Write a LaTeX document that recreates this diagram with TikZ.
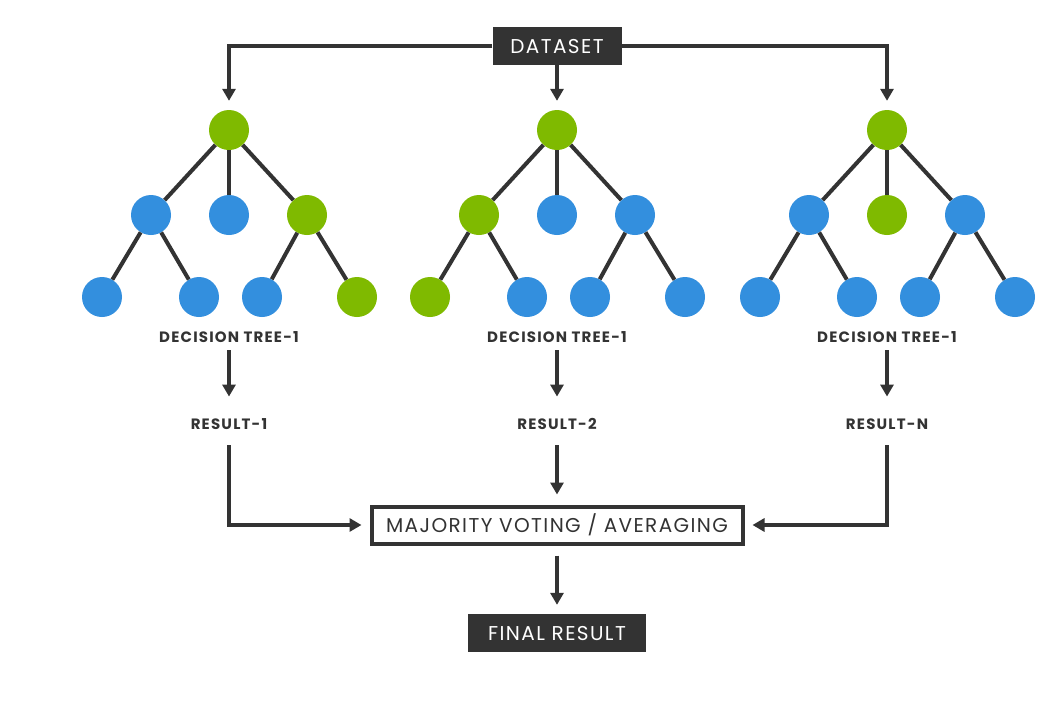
\documentclass[tikz,border=0pt]{standalone}
\usepackage{fontspec}
\setmainfont{Poppins}
\newfontfamily\labfont[LetterSpace=8]{Poppins}
\newfontfamily\boxfont[LetterSpace=7]{Poppins}
\usetikzlibrary{arrows.meta}
\definecolor{dk}{HTML}{333333}
\definecolor{gr}{HTML}{7FBA00}
\definecolor{bl}{HTML}{338FDE}
\tikzset{
  g/.style={circle,fill=gr,minimum size=40pt,inner sep=0pt},
  b/.style={circle,fill=bl,minimum size=40pt,inner sep=0pt},
  edge/.style={draw=dk,line width=4pt},
  arr/.style={draw=dk,line width=4pt,-{Triangle[width=13pt,length=12pt]}},
  lab/.style={text=dk,font=\labfont\bfseries\fontsize{15}{15}\selectfont,inner sep=0pt,text height=10.5pt,text depth=0pt},
  boxtext/.style={font=\boxfont\fontsize{20}{20}\selectfont,inner sep=0pt,text height=14pt,text depth=0pt},
  darkbox/.style={boxtext,fill=dk,text=white},
}
\begin{document}
\begin{tikzpicture}[x=1pt,y=-1pt]
\useasboundingbox (0,0) rectangle (1061,705);
\fill[white] (0,0) rectangle (1061,705);
% dataset
\node[darkbox,minimum width=129pt,minimum height=38pt] (ds) at (557,46) {DATASET};
% tree 1
\node[g] (r1) at (229,130) {};
\node[b] (a1) at (151,215) {};
\node[b] (b1) at (229,215) {};
\node[g] (c1) at (307,215) {};
\node[b] (d1) at (102,297) {};
\node[b] (e1) at (199,297) {};
\node[b] (f1) at (262,297) {};
\node[g] (h1) at (357,297) {};
% tree 2
\node[g] (r2) at (557,130) {};
\node[g] (a2) at (479,215) {};
\node[b] (b2) at (557,215) {};
\node[b] (c2) at (635,215) {};
\node[g] (d2) at (430,297) {};
\node[b] (e2) at (527,297) {};
\node[b] (f2) at (590,297) {};
\node[b] (h2) at (685,297) {};
% tree 3
\node[g] (r3) at (887,130) {};
\node[b] (a3) at (809,215) {};
\node[g] (b3) at (887,215) {};
\node[b] (c3) at (965,215) {};
\node[b] (d3) at (760,297) {};
\node[b] (e3) at (857,297) {};
\node[b] (f3) at (920,297) {};
\node[b] (h3) at (1015,297) {};
\foreach \t in {1,2,3}{
  \draw[edge] (r\t) -- (a\t);
  \draw[edge] (r\t) -- (b\t);
  \draw[edge] (r\t) -- (c\t);
  \draw[edge] (a\t) -- (d\t);
  \draw[edge] (a\t) -- (e\t);
  \draw[edge] (c\t) -- (f\t);
  \draw[edge] (c\t) -- (h\t);
}
% dataset arrows
\draw[arr,shorten >=9pt] (ds.west) -| (r1.north);
\draw[arr,shorten >=9pt] (ds.south) -- (r2.north);
\draw[arr,shorten >=9pt] (ds.east) -| (r3.north);
% labels
\node[lab] (t1) at (229,337) {DECISION TREE-1};
\node[lab] (t2) at (557,337) {DECISION TREE-1};
\node[lab] (t3) at (887,337) {DECISION TREE-1};
\node[lab] (s1) at (229,424) {RESULT-1};
\node[lab] (s2) at (557,424) {RESULT-2};
\node[lab] (s3) at (887,424) {RESULT-N};
\foreach \t in {1,2,3}{
  \draw[arr,shorten <=8pt,shorten >=22pt] (t\t.south) -- (s\t.north);
}
% majority
\node[boxtext,draw=dk,line width=4pt,text=dk,minimum width=371pt,minimum height=37pt] (mv) at (557,525) {MAJORITY VOTING / AVERAGING};
\draw[arr,shorten <=16pt,shorten >=8pt] (s1.south) |- (mv.west);
\draw[arr,shorten <=16pt,shorten >=10pt] (s2.south) -- (mv.north);
\draw[arr,shorten <=16pt,shorten >=8pt] (s3.south) |- (mv.east);
% final
\node[darkbox,minimum width=178pt,minimum height=38pt] (fr) at (557,633) {FINAL RESULT};
\draw[arr,shorten <=10pt,shorten >=9pt] (mv.south) -- (fr.north);
\end{tikzpicture}
\end{document}
